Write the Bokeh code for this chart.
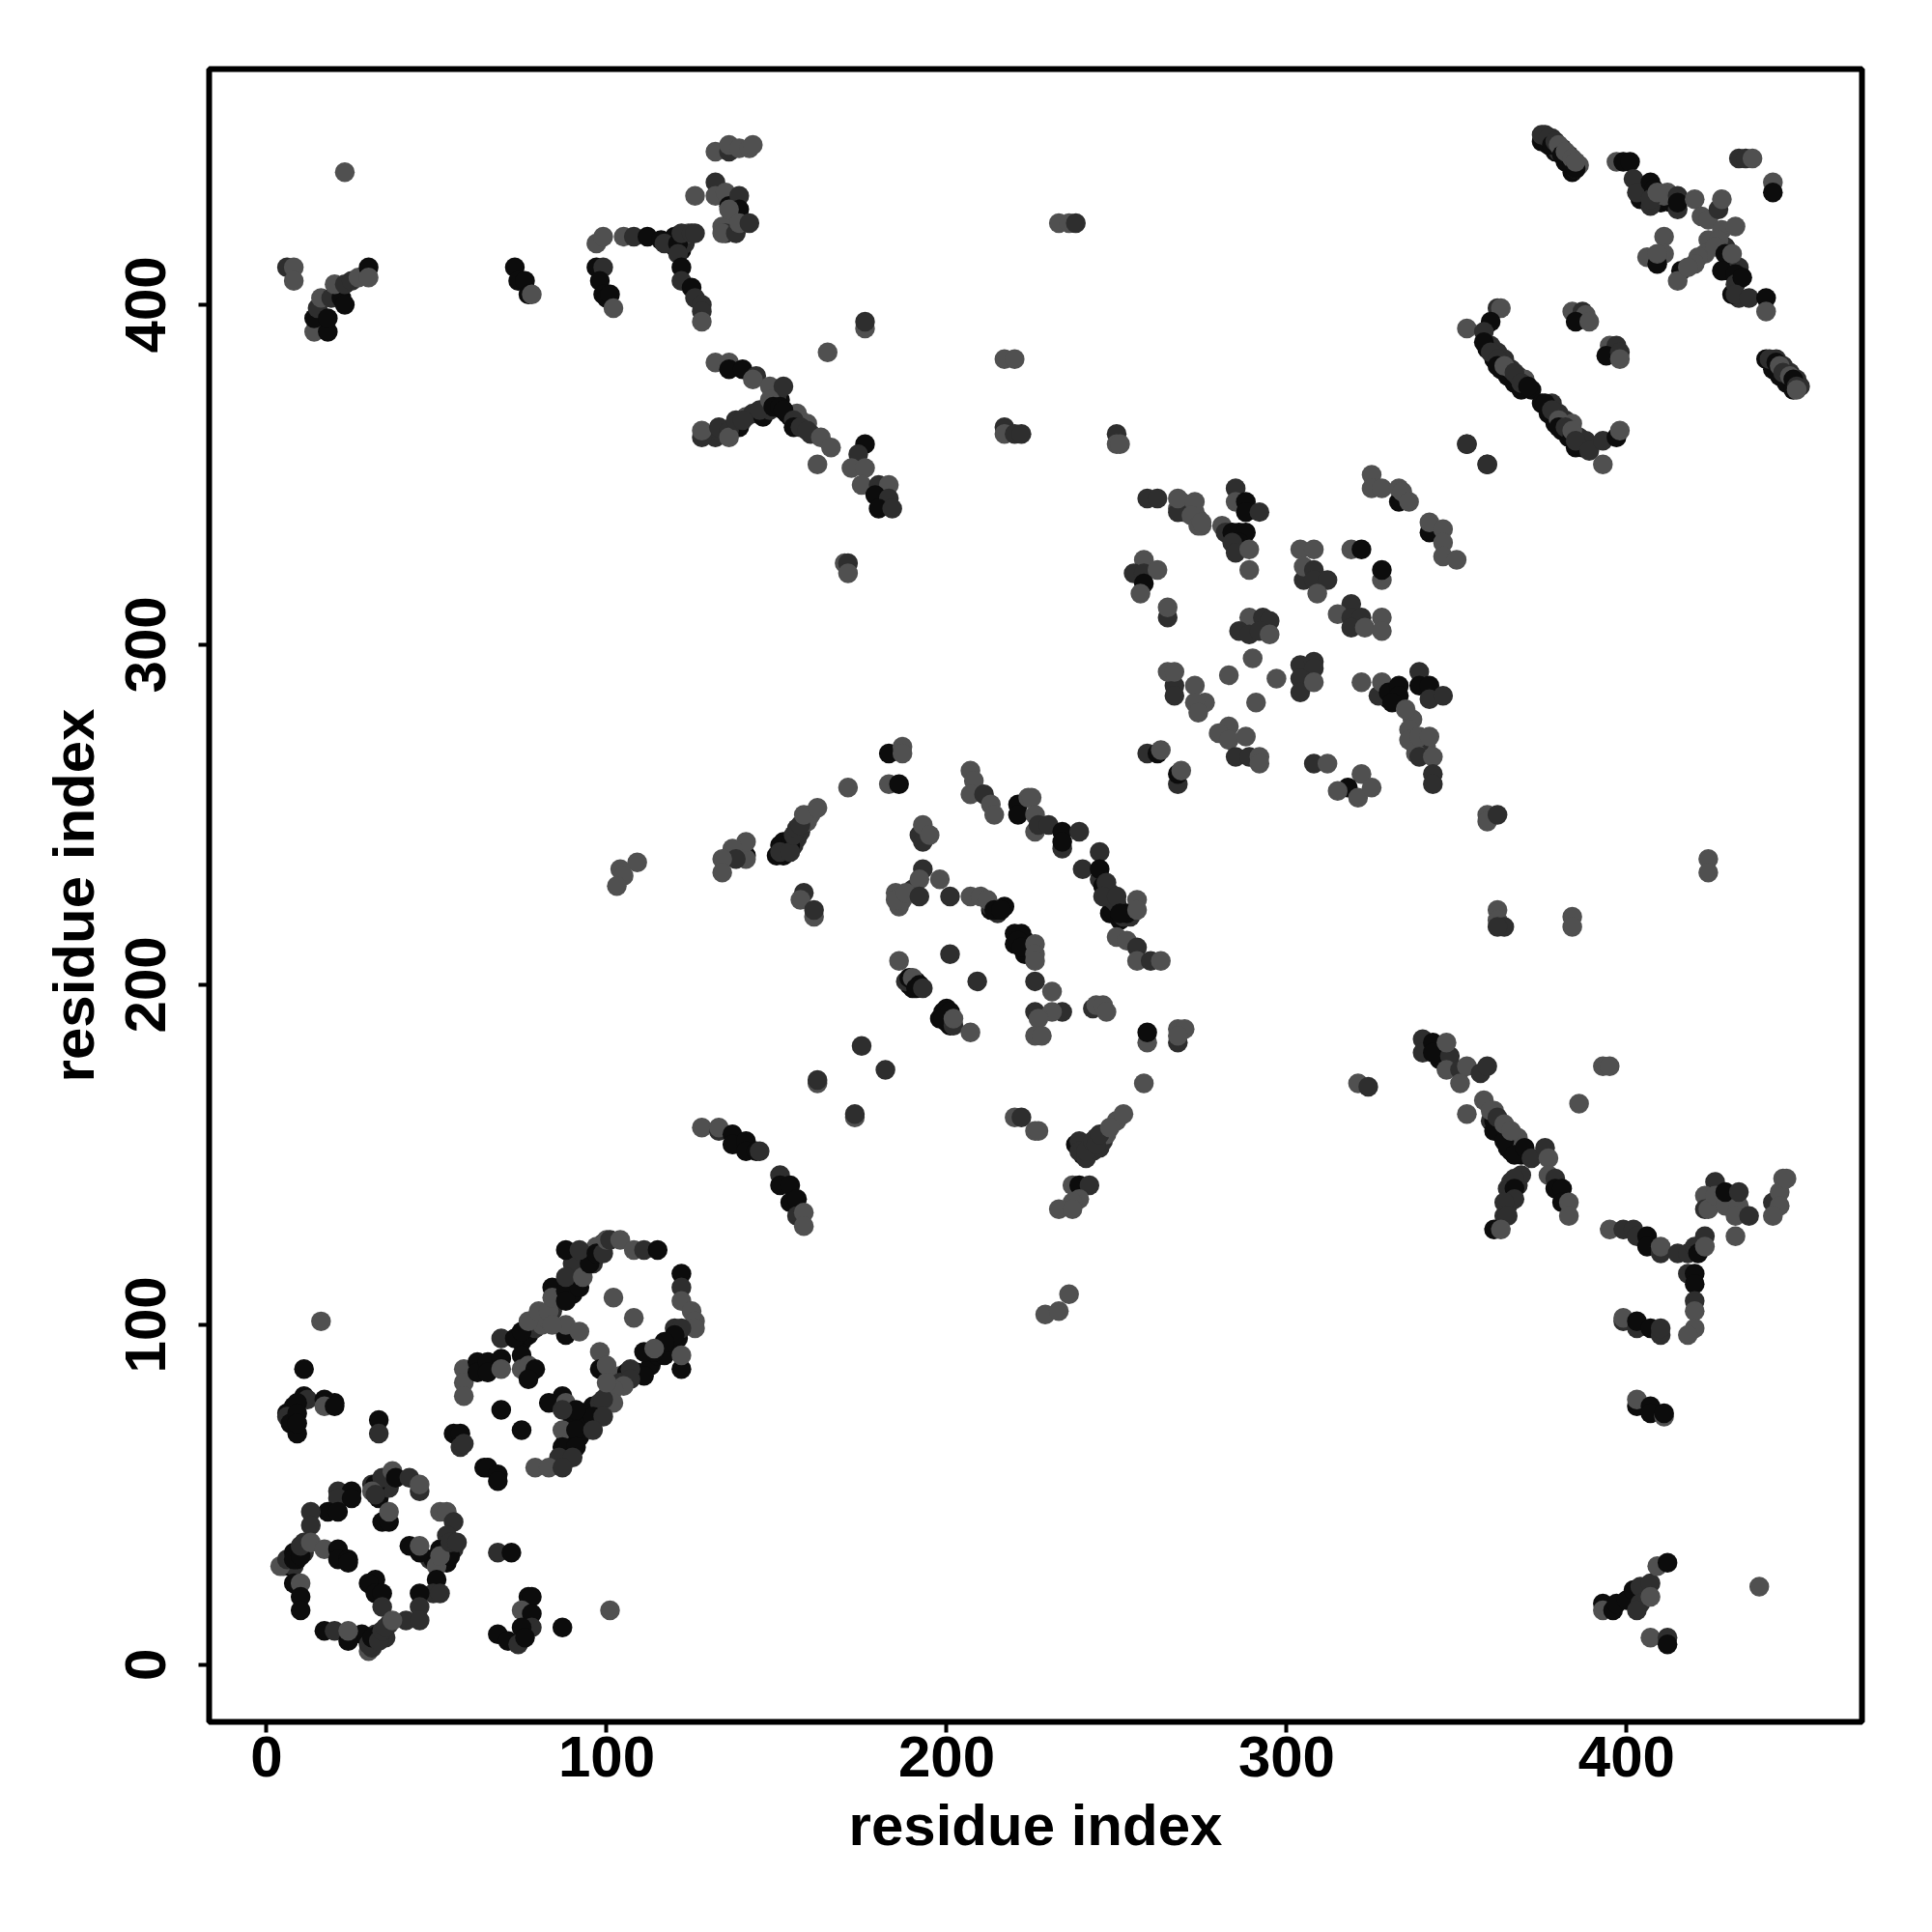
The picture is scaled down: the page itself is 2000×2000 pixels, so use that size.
from bokeh.plotting import figure
from bokeh.models import ColumnDataSource, FixedTicker, Range1d
from bokeh.embed import file_html
from bokeh.resources import INLINE

# contact tone: 0 = darkest, 1 = dark grey, 2 = grey
tick_values = [0, 100, 200, 300, 400]
axis_label_text = "residue index"

dense_bands = [(375,448,0),(376,450,1),(377,447,0),(378,449,1),(379,445,0),(380,445,1),(381,446,1),(382,442,0),(383,444,1),(384,439,0),(385,440,1),(386,441,2),
(359,387,0),(360,388,1),(361,384,0),(362,386,1),(363,381,0),(364,384,1),(365,379,0),(366,381,1),(367,377,0),(368,379,1),(369,375,0),(370,378,2),(372,375,0),
(375,371,0),(377,368,0),(378,371,1),(379,365,0),(380,368,1),(381,363,0),(382,366,1),(383,361,0),(384,365,2),(385,358,0),(386,361,1),(387,358,0),(388,360,1),
(441,384,0),(443,381,0),(444,384,1),(445,379,0),(446,382,1),(447,377,0),(448,380,1),(449,375,0),(450,378,1),(451,376,1),
(150,238,0),(152,238,0),(153,240,1),(155,241,1),(156,243,1),(157,245,1),(159,248,2),(160,250,2),(152,242,0),
(241,152,1),(240,152,1),(243,151,1),(245,152,1),(246,154,1),(247,156,2),(250,160,2),(242,153,0),(244,155,1),
(75,95,0),(77,97,0),(79,99,1),(81,100,2),(82,102,2),(84,104,1),(86,107,1),(86,110,0),(90,109,0),(90,113,0),(92,116,0),(94,118,0),(96,118,1),(98,123,2),(99,124,1),(97,123,2),(90,118,1),
(92,70,0),(94,73,0),(96,76,0),(98,77,1),(100,79,2),(103,82,2),(104,85,2),(106,86,0),(109,86,0),(113,88,0),(115,91,0),(117,91,0),(119,95,0),(120,99,1),(121,96,0),(104,83,1),
(89,67,0),(88,66,0),(92,67,0),(90,72,0),
(5,29,2),(6,30,0),(7,29,0),(8,29,1),(9,31,0),(11,33,1),(11,36,1),(30,7,0),(32,7,0),(32,9,1),(33,9,0),(34,8,1),(35,8,1),(36,12,1),(35,53,0),(33,51,0),(33,49,0),(31,53,1),(36,52,1),(48,31,1),(49,31,0),(50,30,0),(51,34,0),(53,30,0),(50,29,2),(55,34,1),(28,9,0),
(284,331,0),(285,332,0),(286,333,0),(287,330,0),(283,333,0),(330,284,0),(331,286,0),(332,284,0),(337,278,2),(338,270,2),(337,273,1),(338,271,1),(340,269,1),(341,270,2),(339,271,1),(338,268,2),(268,340,2),(269,342,2),(270,341,2),(271,340,2),(272,340,2),(273,339,2),(274,337,2),(275,335,2),
(360,160,1),(361,160,0),(362,157,0),(363,158,0),(365,156,1),(365,152,0),(366,151,0),(368,152,1),(369,150,0),(368,155,2),(367,154,2),(362,158,1),(361,163,2),(366,139,1),(365,135,1),(368,141,1),(366,142,1),
(342,181,0),(344,181,1),(345,178,0),(346,181,1),
(151,372,0),(153,368,0),(154,367,0),(156,365,1),(156,368,2),(157,366,2),(159,365,2),(160,362,1),(150,373,1),(132,361,1),(134,362,1),(137,364,1),(139,364,0),(141,367,2),(143,368,1),(146,367,0),(148,369,1),
(136,431,0),(137,426,0),(138,430,0),(137,423,2),(134,423,2),(135,421,1),(120,420,0),(120,417,0),(122,416,0),(123,420,0),(123,418,1),(124,421,2),
(404,431,0),(405,435,1),(406,433,1),(410,430,0),(412,433,2),(413,430,0),(407,429,1),(411,432,2),(430,410,0),(433,402,1),(431,403,0),(429,417,1),(430,412,0),(433,411,1),
(189,200,0),(190,199,0),(191,201,0),(188,201,1),(198,190,0),(200,189,0),(201,188,0),(200,193,0),(220,215,0),(220,212,0),(223,209,0),(223,213,0),(213,222,0),(215,221,1),(217,223,0),(213,223,1),(248,221,0),(249,222,0),(251,219,0),(254,220,1),(250,224,1),(245,231,1),(246,229,0),(248,227,1),(249,225,1),(186,223,2),(187,225,2),(190,228,1)]

low_left_ring = [(16,101,2),(11,87,0),(11,79,0),(12,78,1),(17,78,0),(20,77,0),(17,76,2),(20,76,0),(6,74,0),(8,76,0),(9,77,0),(6,73,1),(7,71,0),(9,74,0),(9,68,0),(9,71,0),
(33,72,0),(33,68,1),
(32,53,0),(34,55,1),(31,51,2),(32,50,1),(37,57,2),(38,55,0),(42,55,1),(45,51,1),(45,53,2),
(21,51,1),(25,51,0),(21,49,1),(25,49,0),(18,45,0),(21,45,0),(13,45,1),(13,41,1),(34,42,0),(36,42,0),(36,45,2),
(51,45,2),(53,45,2),(55,42,1),(53,38,1),(54,32,0),(52,34,0),(51,32,2),(54,36,1),(56,36,1),(42,35,0),(45,33,0),(45,35,2),
(4,29,2),(6,31,1),(8,33,0),(8,31,0),(10,32,0),(10,35,1),(13,36,2),(17,34,2),(21,34,0),(21,31,0),(24,31,0),(24,30,0),
(8,24,0),(10,24,2),(10,20,0),(10,16,0),(32,25,0),(30,24,0),(32,21,0),(34,21,0),(34,17,1),
(50,25,0),(49,21,1),(51,21,1),(45,21,0),(45,17,1),(41,13,1),(45,13,1),
(30,4,2),(31,5,1),(30,6,1),(31,8,0),(33,7,1),(34,10,1),(35,11,1),(37,13,2),
(17,10,0),(20,10,1),(24,7,0),(24,10,2)]

low_left_block = [(55,68,0),(57,68,0),(57,64,1),(58,65,1),(64,58,0),(65,58,0),(68,56,0),(68,54,0),(69,75,0),(75,69,0),
(58,87,2),(58,83,2),(58,79,2),(62,89,0),(62,86,0),(65,89,0),(65,86,0),(69,90,0),(69,87,2),(69,96,1),(73,96,0),(75,98,0),(75,91,0),(75,87,2),(77,88,2),(79,87,0),(77,84,0),
(77,101,2),(80,104,2),(83,104,2),(84,111,0),(84,108,2),(88,110,0),(88,107,0),(92,111,0),(88,114,1),(93,114,2),(95,118,0),(88,122,0),(92,122,1),(97,121,0),(99,121,1),(100,125,2),(101,125,1),(104,125,2),(108,122,2),(111,122,1),(115,122,0),
(122,115,0),(122,111,1),(122,107,2),(125,104,2),(126,101,2),(126,99,2),(102,108,2),(108,102,2),
(122,99,1),(120,97,0),(122,87,0),(122,91,2),(117,95,0),(114,92,0),(111,92,0),(114,93,2),(111,85,0),(107,87,1),(107,84,1),(105,82,2),(102,81,2),(102,77,2),(99,78,1),(96,73,0),(99,73,1),
(98,92,2),(98,87,0),(100,88,2),(100,83,2),(88,97,0),(88,100,2),(92,98,2),(84,100,2),(87,79,0),(83,77,0),(88,77,2),(91,75,0),(87,75,1),
(87,69,2),(91,69,0),(96,69,1),(87,64,0),(91,64,0),(86,61,1),(90,61,1),(79,58,2),(83,58,2),(87,58,1)]

low_left_extra = [(68,33,1),(72,33,0),(77,20,0),(78,20,0),(75,16,2),(78,15,0),(78,11,1),(75,11,0),(68,9,0),(71,7,0),(74,6,1),(76,8,0),(87,11,0),(101,16,2),
(229,103,2),(233,104,2),(236,109,2)]

middle_arcs = [(183,268,0),(187,270,2),(187,268,2),(183,259,2),(186,259,0),(171,258,2),(207,263,2),(208,260,2),(207,256,2),(211,256,1),(213,253,2),(214,250,2),
(151,241,0),(154,241,0),(151,239,1),(154,239,1),(155,244,1),(156,246,1),(157,247,1),(158,250,2),(162,252,2),
(141,238,0),(141,237,2),(141,242,2),(137,240,2),(138,237,1),(134,237,2),(134,233,2),(109,236,2),(104,234,2),(105,232,2),(103,229,2),
(158,227,1),(157,225,2),(161,220,2),(161,222,1),(192,244,1),(193,242,1),(193,247,2),(195,244,2),
(221,253,0),(221,250,0),(224,255,2),(225,255,2),(226,250,2),(226,245,2),(227,247,1),(230,247,1),(234,240,1),(234,245,0),(234,242,0),(239,245,1),
(245,239,1),(240,234,1),(245,234,0),(247,230,1),(246,226,1),(250,226,1),(252,220,1),(253,221,0),(251,221,0),(256,225,2),(256,222,2),
(250,214,2),(253,213,2),(256,211,1),(256,207,2),(260,207,1),(263,207,2),
(193,234,1),(192,231,2),(198,231,2),(185,227,2),(185,225,2),(188,227,2),(192,226,1),(201,226,1),(207,226,2),(210,226,2),(212,225,2),(214,222,0),(216,222,0),
(222,215,0),(221,213,0),(222,211,0),(226,212,2),(226,209,2),(226,207,2),(226,201,1),(231,198,2),(234,192,1),(226,192,1),(231,192,2),(227,190,2),(226,185,2),(228,185,2),
(243,193,1),(244,194,2),(246,194,2),(247,192,2),(201,209,1),(209,201,1),(186,207,2),
(189,202,0),(190,202,2),(192,200,0),(191,199,0),(193,199,1),(199,192,0),(201,192,0),(199,190,0),(202,188,1),(202,190,2),(207,186,2),
(259,183,2),(259,186,0),(268,183,1),(268,187,2),(270,187,2),(268,185,2),
(258,171,2),(220,161,2),(222,161,1),(226,157,2),(227,157,2),
(238,153,0),(240,150,0),(239,154,1),(239,151,1),(241,149,1),(241,151,1),(243,154,1),(244,153,1),(245,156,1),(248,158,2),(252,162,2),
(237,141,2),(239,141,0),(242,141,1),(239,137,2),(237,136,2),(233,134,2),(237,134,2),
(175,182,1),(182,175,1),(162,171,2),(162,172,1),(173,161,2),(173,162,1),
(128,158,2),(133,157,1),(133,158,2),(137,156,0),(137,153,0),(141,154,0),(141,151,0),(144,151,0),(145,151,1),
(151,144,1),(151,141,0),(154,141,0),(154,136,0),(156,137,0),(156,132,1),(158,133,2),(158,129,2)]

center_block = [(259,343,1),(262,343,1),(270,339,2),(268,339,1),(268,343,2),(273,342,2),(272,338,2),(274,335,2),(275,336,2),(281,335,2),(282,333,1),(284,333,0),(288,333,0),(286,330,0),(284,330,1),(285,327,1),(289,328,2),(289,322,2),
(285,346,1),(285,342,2),(288,342,0),(288,339,0),(292,339,1),
(258,325,2),(255,321,1),(258,321,1),(262,322,2),(258,318,0),(257,315,2),(265,308,1),(265,311,2),
(289,308,2),(293,308,1),(295,307,1),(286,304,1),(289,303,1),(292,304,1),(295,303,2),(290,296,2),(283,291,2),(291,283,2),(297,290,2),
(304,294,1),(308,295,1),(308,293,1),(304,290,1),(304,286,1),(308,289,2),
(304,328,2),(308,328,2),(319,328,2),(322,328,0),(305,319,1),(305,323,2),(308,322,1),(308,319,1),(312,319,1),(309,315,2),(328,319,2),(328,322,0),
(319,312,1),(315,309,2),(319,308,1),(322,308,1),(319,305,1),(323,305,2),(328,308,2),(328,304,2),
(322,289,2),(327,285,1),(328,289,2),(330,286,0),(333,288,0),(333,285,0),(331,283,0),(335,281,2),(339,292,1),(339,288,0),(342,288,0),(342,284,1),(346,285,1),
(336,275,2),(336,272,2),(339,273,2),(342,273,2),(339,267,1),(343,267,2),(343,262,1),(343,259,1),
(322,262,2),(318,258,0),(315,257,2),(321,255,2),(325,258,2),(308,265,1),(312,265,2),
(325,350,2),(325,346,2),(328,346,2),(333,342,0),(333,346,2),(334,345,2),(336,342,2),
(342,333,0),(342,336,2),(346,334,2),(346,330,2),(346,326,2),(350,325,2),(359,353,1),(353,359,1),
(267,288,1),(267,285,1),(265,292,2),(267,292,2),(273,288,2),(276,283,2),(273,283,2),(274,280,2),
(283,276,2),(280,274,2),(283,272,2),(288,273,2),(285,267,1),(289,267,1),(292,267,2),(292,265,2),
(259,268,1),(262,268,0),(263,269,2),(268,259,1),(268,262,0),(269,263,2),
(359,250,2),(359,248,2),(362,250,1)]

top_left = [(23,439,2),(6,411,1),(8,411,2),(8,407,2),(14,392,2),(18,392,0),(14,396,0),(15,399,1),(18,396,0),(16,402,2),(19,402,1),(22,402,0),(23,400,0),(20,406,2),(23,406,1),(25,407,1),(27,408,2),(30,411,0),(30,408,2),
(73,411,0),(74,407,0),(76,407,0),(77,403,0),(78,403,2),
(97,411,0),(99,411,1),(98,407,0),(99,403,0),(100,402,0),(101,403,0),(102,399,2),
(97,418,2),(99,420,2),(105,420,2),(108,420,1),(112,420,0),(116,419,0),(117,418,1),
(121,418,0),(122,421,1),(125,421,1),(126,421,1),(121,415,1),(122,411,0),(122,407,1),(125,405,0),(126,402,1),(128,400,1),(128,398,1),(128,395,2),
(126,432,2),(132,445,2),(136,445,1),(136,447,2),(139,446,2),(142,446,2),(143,447,2),
(132,436,1),(132,432,2),(135,433,2),(136,429,0),(139,432,1),(139,428,0),(136,428,2),(134,421,2),(138,421,1),(139,424,2),(142,424,1),
(165,386,2),(176,393,2),(176,395,1),
(132,383,2),(136,383,2),(136,381,0),(140,381,0),(144,379,1),(143,378,2),(148,376,2),(152,376,1),
(128,361,1),(128,363,2),(133,364,1),(136,363,1),(136,361,2),(138,366,1),(140,366,1),(145,369,1),(148,372,2),
(149,370,0),(151,370,0),(152,369,0),(155,366,1),(155,364,0),(157,364,1),(159,363,1),(163,361,2),(166,358,2),(162,353,2),
(176,359,0),(174,356,1),(172,352,2),(176,352,2),(175,347,2),(180,347,1),(183,347,2),(179,344,0),(183,343,1),(180,340,0),(184,340,1),
(170,324,2),(171,324,1),(171,321,2),
(233,424,2),(236,424,2),(238,424,1),(217,384,2),(220,384,2),(217,364,1),(217,362,2),(220,362,1),(222,362,1),(250,362,1),(250,359,2),(251,359,2)]

top_right = [(375,450,1),(377,449,1),(378,447,0),(379,448,1),(380,447,2),(381,444,0),(382,445,2),(384,441,0),(384,443,2),(385,440,0),(385,442,2),
(397,442,2),(399,442,0),(401,442,0),(402,437,1),(403,433,1),(407,436,0),(408,434,0),(407,431,1),(409,433,2),(415,432,1),(415,428,1),(415,430,0),
(420,431,2),(422,426,2),(424,425,2),(427,428,1),(428,431,2),(424,419,2),
(411,420,2),(411,415,2),(406,414,2),(409,412,0),(409,415,2),
(433,443,1),(435,443,1),(437,443,2),(443,436,2),(443,433,0),
(428,422,2),(432,423,2),(427,419,2),(423,415,2),(421,414,2),(426,417,2),(429,415,0),(431,415,2),(428,410,0),(432,409,0),(432,406,1),(434,408,0),(432,403,1),(436,402,1),(441,402,0),(441,398,2),
(416,410,0),(420,412,2),(415,407,2),(418,411,2),
(442,384,1),(444,383,0),(445,382,2),(446,380,1),(448,379,2),(449,378,0),(450,376,1),(450,375,2),
(353,393,2),(362,399,1),(363,399,2),(360,395,0),(358,392,1),(358,389,0),(360,386,1),(362,384,1),(362,382,0),(364,382,2),(367,380,1),(369,377,1),(371,376,0),
(376,371,0),(378,369,1),(380,366,2),(380,364,0),(382,364,1),(384,361,0),(384,363,2),(385,360,1),(389,357,1),(393,360,1),(397,361,0),(398,363,2),(393,353,2),(353,359,1),(359,353,1),
(384,398,2),(387,398,1),(388,397,2),(385,395,0),(389,395,2),(395,388,2),(397,388,1),(394,385,0),(398,386,1),(398,384,2)]

bottom_right = [(340,184,1),(340,180,1),(343,183,0),(343,180,0),(348,179,1),(347,183,2),(347,175,2),(351,175,1),(353,176,2),(357,174,1),(359,176,1),(351,171,2),
(393,176,2),(395,176,2),(386,165,2),(321,171,2),(324,170,1),(362,222,2),(362,219,2),(364,217,1),(362,217,1),(384,220,2),(384,217,2),(424,237,2),(424,233,2),
(358,166,2),(353,162,2),(360,163,2),(361,157,0),(362,161,1),(364,154,0),(364,159,2),(366,157,2),(367,150,0),(370,152,0),(372,149,1),(376,152,1),(377,149,2),(377,144,2),(379,143,1),(379,140,0),(381,140,0),(381,136,0),(383,136,2),(383,132,2),
(369,144,1),(367,143,1),(365,140,1),(367,140,0),(367,137,1),(364,136,1),(364,132,1),(365,132,1),(361,128,0),(363,128,2),
(395,128,2),(399,128,1),(402,128,1),(403,126,1),(406,126,0),(406,123,0),(410,121,1),(410,123,2),(415,121,1),(418,121,1),(420,123,1),(421,121,0),(423,126,1),(423,123,2),
(418,115,1),(420,115,0),(420,112,0),(420,107,1),(420,104,2),(420,99,2),(418,97,2),
(399,101,1),(399,102,2),(403,99,1),(403,101,0),(407,99,0),(410,97,1),(410,99,1),
(403,76,0),(403,78,2),(407,76,0),(407,74,0),(411,73,2),(411,74,0),
(426,142,1),(423,138,2),(423,134,1),(424,134,2),(426,138,2),(429,135,2),(429,139,0),(433,135,2),(433,139,1),(432,132,2),(436,132,1),(432,126,2),
(443,136,1),(445,139,2),(445,135,2),(443,132,2),(446,143,2),(447,143,2),
(393,18,0),(393,16,2),(396,16,0),(397,18,0),(400,19,0),(402,22,0),(404,23,1),(404,18,1),(403,16,1),(407,24,1),(407,20,2),(409,29,2),(412,30,0),(407,8,2),(412,8,1),(412,6,0),(439,23,2)]

regions = [dense_bands, low_left_ring, low_left_block, low_left_extra, middle_arcs, center_block, top_left, top_right, bottom_right]
tone_colors = {0: "#0c0c0c", 1: "#2e2e2e", 2: "#505050"}

xs, ys, colors = [], [], []
for region in regions:
    for x, y, t in region:
        xs.append(x); ys.append(y); colors.append(tone_colors[t])
source = ColumnDataSource(dict(x=xs, y=ys, color=colors))

p = figure(width=1992, height=1992, frame_width=1711, frame_height=1711,
           x_range=Range1d(-16.9, 469.2), y_range=Range1d(-16.8, 469.3),
           output_backend="svg", toolbar_location=None,
           min_border_left=216, min_border_right=65, min_border_top=71, min_border_bottom=210)
p.scatter("x", "y", source=source, size=20.5, color="color", line_color=None, marker="circle")

p.grid.visible = False
p.outline_line_color = "black"
p.outline_line_width = 6
p.background_fill_color = "white"
p.border_fill_color = "white"

for ax in (p.xaxis[0], p.yaxis[0]):
    ax.ticker = FixedTicker(ticks=tick_values)
    ax.minor_tick_line_color = None
    ax.axis_line_color = None
    ax.major_tick_line_color = "black"
    ax.major_tick_line_width = 4
    ax.major_tick_in = 0
    ax.major_tick_out = 11
    ax.axis_label = axis_label_text
    ax.axis_label_text_font = "Liberation Sans"
    ax.axis_label_text_font_style = "bold"
    ax.axis_label_text_font_size = "60px"
    ax.axis_label_text_color = "black"
    ax.major_label_text_font = "Liberation Sans"
    ax.major_label_text_font_style = "bold"
    ax.major_label_text_font_size = "60px"
    ax.major_label_text_color = "black"

p.xaxis[0].major_label_standoff = 4
p.xaxis[0].axis_label_standoff = 14
p.yaxis[0].major_label_orientation = "vertical"
p.yaxis[0].major_label_standoff = 34
p.yaxis[0].axis_label_standoff = 18

open("out.html", "w").write(file_html(p, INLINE))
